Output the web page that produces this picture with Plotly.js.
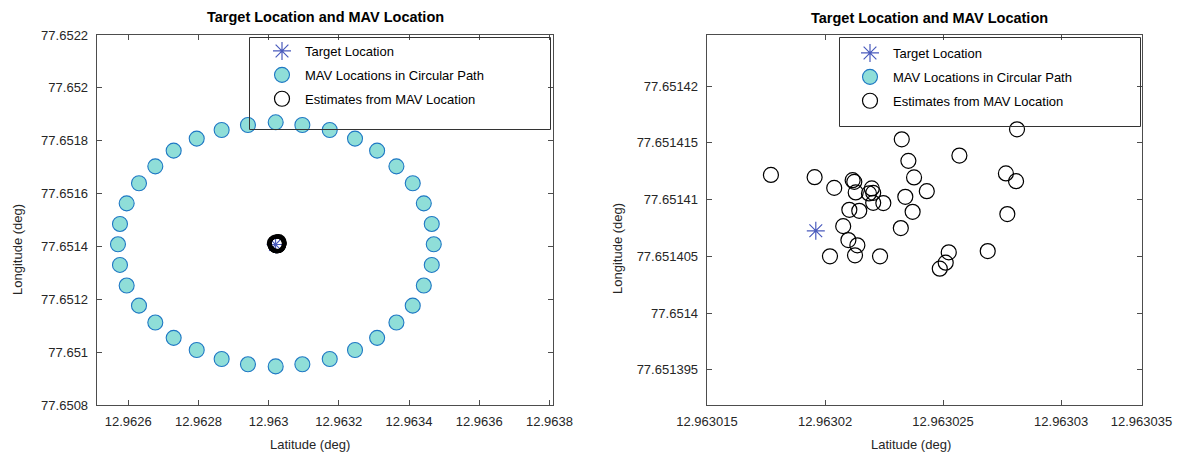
<!DOCTYPE html>
<html>
<head>
<meta charset="utf-8">
<script src="https://cdn.plot.ly/plotly-3.0.1.min.js"></script>
<style>html,body{margin:0;padding:0;background:#fff}#chart{width:1181px;height:457px}</style>
</head>
<body>
<div id="chart"></div>
<script>
// ---- data ----
const targetLat = [12.96301961];
const targetLon = [77.65140725];

const mavLat = [12.96302, 12.963096, 12.963174, 12.963246, 12.963309, 12.963364, 12.9634105, 12.963442, 12.9634647,
  12.9634704, 12.9634647, 12.963442, 12.9634105, 12.963364, 12.963309, 12.963246, 12.963174, 12.963096,
  12.96302, 12.962941, 12.962866, 12.962795, 12.9627293, 12.962677, 12.9626305, 12.9625954, 12.9625763,
  12.9625706, 12.9625763, 12.9625954, 12.9626305, 12.962677, 12.9627293, 12.962795, 12.962866, 12.962941];
const mavLon = [77.6518696, 77.6518595, 77.6518406, 77.651808, 77.6517624, 77.651703, 77.651639, 77.651563, 77.651485,
  77.651408, 77.65133, 77.651252, 77.651176, 77.651112, 77.651054, 77.651008, 77.650974, 77.650954,
  77.650946, 77.650954, 77.650974, 77.651008, 77.651054, 77.651112, 77.651176, 77.651252, 77.65133,
  77.651408, 77.651485, 77.651563, 77.651639, 77.651703, 77.6517624, 77.651808, 77.6518406, 77.6518595];

const estLat = [12.96301771, 12.96301956, 12.96302039, 12.96302117, 12.96302124, 12.9630213, 12.96302198, 12.96302186,
  12.96302204, 12.96302204, 12.96302247, 12.96302103, 12.96302145, 12.96302077, 12.96302099, 12.96302137,
  12.96302021, 12.96302127, 12.96302233, 12.96302325, 12.96302353, 12.96302377, 12.9630234, 12.96302431,
  12.96302371, 12.96302321, 12.96302569, 12.96302813, 12.96302766, 12.96302809, 12.96302772, 12.96302689,
  12.96302524, 12.96302511, 12.96302486];
const estLon = [77.65141217, 77.65141197, 77.65141103, 77.65141171, 77.65141156, 77.65141063, 77.65141098, 77.65141054,
  77.65141059, 77.65140971, 77.65140969, 77.6514091, 77.65140901, 77.65140766, 77.65140643, 77.65140597,
  77.651405, 77.65140509, 77.651405, 77.65141531, 77.65141341, 77.65141195, 77.65141024, 77.65141074,
  77.65140892, 77.65140749, 77.65141388, 77.65141619, 77.6514123, 77.65141162, 77.65140872, 77.65140546,
  77.65140535, 77.65140444, 77.65140391];

const leftXTickVals = [12.9626, 12.9628, 12.963, 12.9632, 12.9634, 12.9636, 12.9638];
const leftXTickText = ['12.9626', '12.9628', '12.963', '12.9632', '12.9634', '12.9636', '12.9638'];
const leftYTickVals = [77.6508, 77.651, 77.6512, 77.6514, 77.6516, 77.6518, 77.652, 77.6522];
const leftYTickText = ['77.6508', '77.651', '77.6512', '77.6514', '77.6516', '77.6518', '77.652', '77.6522'];
const rightXTickVals = [12.963015, 12.96302, 12.963025, 12.96303, 12.9630334];
const rightXTickText = ['12.963015', '12.96302', '12.963025', '12.96303', '12.963035'];
const rightYTickVals = [77.651395, 77.6514, 77.651405, 77.65141, 77.651415, 77.65142];
const rightYTickText = ['77.651395', '77.6514', '77.651405', '77.65141', '77.651415', '77.65142'];

const names = ['Target Location', 'MAV Locations in Circular Path', 'Estimates from MAV Location'];
const titleText = 'Target Location and MAV Location';
const xTitle = 'Latitude (deg)';
const yTitle = 'Longitude (deg)';

// ---- style ----
const W = 1181, H = 457, MT = 35, MB = 52;
const px = v => v / W;
const py = v => (H - MB - v) / (H - MT - MB);
const FONT = 'Liberation Sans, Arial, sans-serif';
const starColor = '#4a5bbd';
const cyanFill = '#8fded8';
const cyanLine = '#1f78c4';

function makeTraces(xa, ya, leg) {
  return [
    {x: targetLat, y: targetLon, xaxis: xa, yaxis: ya, type: 'scatter', mode: 'markers', name: names[0],
     legend: leg, legendgroup: leg + 'a',
     marker: {symbol: 'asterisk-open', size: 15, color: starColor, line: {color: starColor, width: 1.2}}},
    {x: mavLat, y: mavLon, xaxis: xa, yaxis: ya, type: 'scatter', mode: 'markers', name: names[1],
     legend: leg, legendgroup: leg + 'b',
     marker: {symbol: 'circle', size: 15, color: cyanFill, line: {color: cyanLine, width: 1.1}}},
    {x: estLat, y: estLon, xaxis: xa, yaxis: ya, type: 'scatter', mode: 'markers', name: names[2],
     legend: leg, legendgroup: leg + 'c',
     marker: {symbol: 'circle-open', size: 15, color: '#000', line: {color: '#000', width: 1.2}}}
  ];
}

const data = [...makeTraces('x', 'y', 'legend'), ...makeTraces('x2', 'y2', 'legend2')];

const axBase = {
  showgrid: false, zeroline: false, showline: true, linecolor: '#4d4d4d', linewidth: 1,
  ticks: 'inside', ticklen: 5, tickcolor: '#4d4d4d', tickwidth: 1, mirror: 'ticks',
  tickfont: {family: FONT, size: 13, color: '#262626'}, tickmode: 'array', automargin: false, fixedrange: true
};

const legBase = {
  bgcolor: 'rgba(0,0,0,0)', borderwidth: 0, font: {family: FONT, size: 13, color: '#000'},
  tracegroupgap: 4, xanchor: 'left', yanchor: 'top', itemclick: false, itemwidth: 36
};

const ann = (x, y, text, opts) => Object.assign({xref: 'paper', yref: 'paper', x: px(x), y: py(y), text: text,
  showarrow: false, xanchor: 'center', yanchor: 'middle', font: {family: FONT, size: 13, color: '#262626'}}, opts || {});

const layout = {
  width: W, height: H, margin: {l: 0, r: 0, t: MT, b: MB, pad: 0},
  paper_bgcolor: '#fff', plot_bgcolor: '#fff', showlegend: true,
  xaxis: Object.assign({}, axBase, {domain: [px(96.7), px(553.3)], range: [12.96251, 12.963811],
    tickvals: leftXTickVals, ticktext: leftXTickText, anchor: 'y', ticklabelstandoff: 4}),
  yaxis: Object.assign({}, axBase, {domain: [0, 1], range: [77.65079999, 77.65220001],
    tickvals: leftYTickVals, ticktext: leftYTickText, anchor: 'x', ticklabelstandoff: 5}),
  xaxis2: Object.assign({}, axBase, {domain: [px(706.7), px(1141.7)], range: [12.96301499, 12.96303341],
    tickvals: rightXTickVals, ticktext: rightXTickText, anchor: 'y2', ticklabelstandoff: 4}),
  yaxis2: Object.assign({}, axBase, {domain: [0, 1], range: [77.6513919, 77.6514245],
    tickvals: rightYTickVals, ticktext: rightYTickText, anchor: 'x2', ticklabelstandoff: 5}),
  legend: Object.assign({}, legBase, {x: px(259), y: py(36)}),
  legend2: Object.assign({}, legBase, {x: px(847), y: py(38)}),
  shapes: [
    {type: 'rect', xref: 'paper', yref: 'paper', x0: px(249.5), x1: px(550.5), y0: py(129.5), y1: py(37.5),
     line: {color: '#333', width: 1}, fillcolor: 'rgba(255,255,255,0)', layer: 'above'},
    {type: 'rect', xref: 'paper', yref: 'paper', x0: px(839.5), x1: px(1140.5), y0: py(126.5), y1: py(37.5),
     line: {color: '#333', width: 1}, fillcolor: 'rgba(255,255,255,0)', layer: 'above'}
  ],
  annotations: [
    ann(325, 17, '<b>' + titleText + '</b>', {font: {family: FONT, size: 14.5, color: '#000'}}),
    ann(929, 18, '<b>' + titleText + '</b>', {font: {family: FONT, size: 14.5, color: '#000'}}),
    ann(310, 444, xTitle),
    ann(911, 444, xTitle),
    ann(17, 250, yTitle, {textangle: -90}),
    ann(617, 249, yTitle, {textangle: -90})
  ]
};

Plotly.newPlot('chart', data, layout, {staticPlot: true, displayModeBar: false});
</script>
</body>
</html>
